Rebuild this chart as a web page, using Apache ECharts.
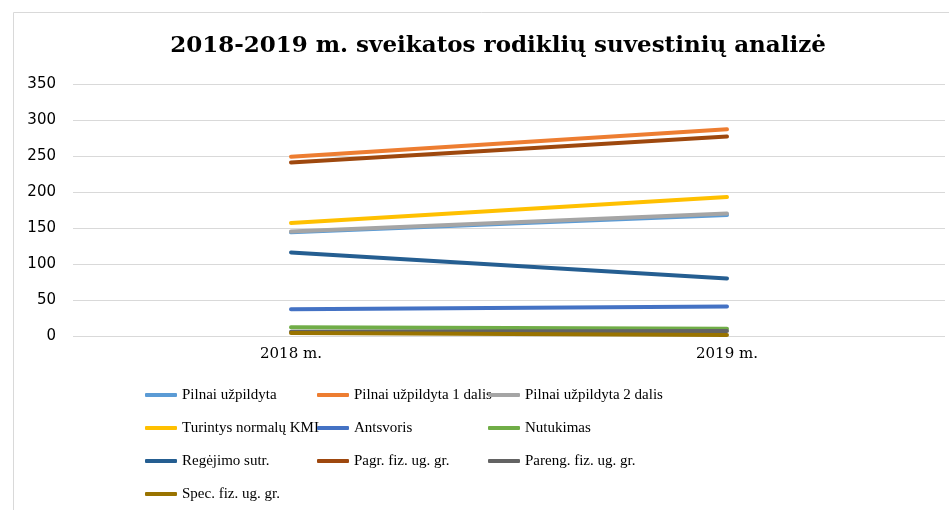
<!DOCTYPE html>
<html>
<head>
<meta charset="utf-8">
<script src="https://cdn.jsdelivr.net/npm/echarts@6/dist/echarts.min.js"></script>
<style>
  html, body { margin: 0; padding: 0; background: #fff; }
</style>
</head>
<body>
<div id="chart-container" style="width: 949px; height: 510px"></div>
<script>
// categories and series values
const years = ["2018 m.", "2019 m."];
const seriesNames = [
  "Pilnai užpildyta",
  "Pilnai užpildyta 1 dalis",
  "Pilnai užpildyta 2 dalis",
  "Turintys normalų KMI",
  "Antsvoris",
  "Nutukimas",
  "Regėjimo sutr.",
  "Pagr. fiz. ug. gr.",
  "Pareng. fiz. ug. gr.",
  "Spec. fiz. ug. gr.",
];
const pilnaiUzpildyta = [144, 168];
const pilnaiUzpildyta1 = [249, 287];
const pilnaiUzpildyta2 = [145, 170];
const normalusKMI = [157, 193];
const antsvoris = [37, 41];
const nutukimas = [12, 10];
const regejimoSutr = [116, 80];
const pagrGr = [241, 277];
const parengGr = [6, 7];
const specGr = [4, 1.5];

const colors = [
  "#5b9bd5", "#ed7d31", "#a5a5a5", "#ffc000", "#4472c4",
  "#70ad47", "#255e91", "#9e480e", "#636363", "#997300",
];
const values = [
  pilnaiUzpildyta, pilnaiUzpildyta1, pilnaiUzpildyta2, normalusKMI, antsvoris,
  nutukimas, regejimoSutr, pagrGr, parengGr, specGr,
];

let myChart = echarts.init(document.getElementById("chart-container"));

// legend is laid out in 3 columns like the Excel one
const legendColumnX = [145, 317, 488];
const legends = legendColumnX.map((x, col) => ({
  orient: "vertical",
  left: x,
  top: 385,
  height: 125,
  padding: 0,
  data: seriesNames.filter((n, i) => i % 3 === col),
  icon: "roundRect",
  itemWidth: 32,
  itemHeight: 4,
  itemGap: 13,
  textStyle: {
    fontFamily: "Liberation Serif",
    fontSize: 15,
    color: "#000",
    lineHeight: 20,
  },
}));

const option = {
  color: colors,
  animation: false,
  graphic: [
    {
      type: "rect",
      shape: { x: 13.5, y: 12.5, width: 1000, height: 600 },
      style: { fill: "none", stroke: "#d9d9d9", lineWidth: 1 },
      silent: true,
    },
  ],
  title: {
    text: "2018-2019 m. sveikatos rodiklių suvestinių analizė",
    left: 493,
    textAlign: "center",
    top: 30,
    textStyle: {
      fontFamily: "DejaVu Serif",
      fontWeight: "bold",
      fontSize: 23,
      color: "#000",
    },
  },
  legend: legends,
  grid: {
    left: 73,
    right: 4,
    top: 84,
    bottom: 174,
  },
  xAxis: {
    type: "category",
    data: years,
    boundaryGap: true,
    axisLine: { show: false },
    axisTick: { show: false },
    axisLabel: {
      fontFamily: "DejaVu Serif",
      fontSize: 15,
      color: "#000",
      margin: 11,
    },
  },
  yAxis: {
    type: "value",
    min: 0,
    max: 350,
    interval: 50,
    axisLine: { show: false },
    axisTick: { show: false },
    splitLine: { lineStyle: { color: "#d9d9d9", width: 1 } },
    axisLabel: {
      fontFamily: "DejaVu Sans",
      fontSize: 15,
      color: "#000",
      margin: 17,
    },
  },
  series: seriesNames.map((name, i) => ({
    name: name,
    type: "line",
    data: values[i],
    symbol: "none",
    lineStyle: { width: 4, cap: "round", color: colors[i] },
    itemStyle: { color: colors[i] },
  })),
};

myChart.setOption(option);
</script>
</body>
</html>
